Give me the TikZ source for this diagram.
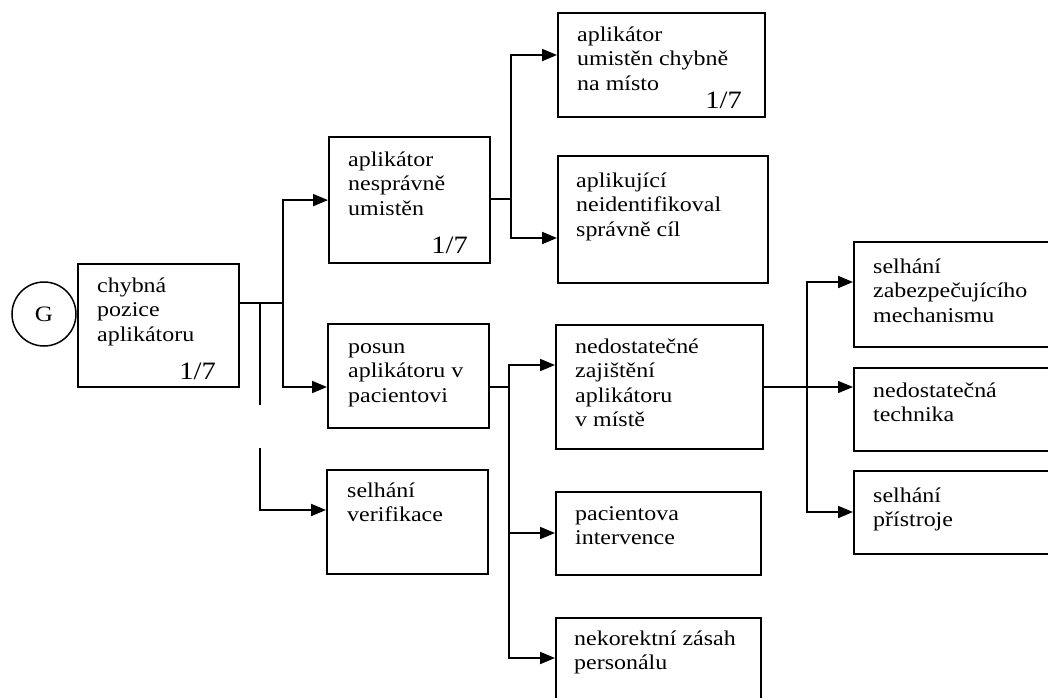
\documentclass[tikz,border=0pt]{standalone}
\usepackage{fontspec}
\setmainfont{Liberation Serif}[FakeStretch=1.14]
\usetikzlibrary{arrows.meta}

\begin{document}
\begin{tikzpicture}[x=1pt,y=-1pt,
  box/.style={draw, line width=2.2pt, inner sep=0pt, anchor=north west},
  % base anchor of a multi-line node sits on its last line
  txt/.style={anchor=base west, inner sep=0pt, align=left,
              font=\fontsize{21}{24.5}\selectfont},
  prob/.style={anchor=base east, inner sep=0pt, font=\fontsize{25}{25}\selectfont},
  link/.style={line width=1.9pt},
  arr/.style={link, -{Triangle[length=15pt,width=12pt]}},
]
\useasboundingbox (0,0) rectangle (1048,697);
\clip (0,0) rectangle (1048,697);

% top event
\node[draw, circle, line width=1.5pt, minimum size=64pt, inner sep=0pt,
      font=\fontsize{22}{22}\selectfont] (g) at (44,314) {G};

% boxes
\node[box, minimum width=161pt, minimum height=123pt] (b1) at (77,263) {};
\node[box, minimum width=161pt, minimum height=126pt] (b2) at (328,136) {};
\node[box, minimum width=207pt, minimum height=104pt] (b3) at (557,12) {};
\node[box, minimum width=210pt, minimum height=127pt] (b4) at (557,155) {};
\node[box, minimum width=161pt, minimum height=104pt] (b5) at (327,323) {};
\node[box, minimum width=161pt, minimum height=104pt] (b6) at (326,469) {};
\node[box, minimum width=207pt, minimum height=124pt] (b7) at (555,324) {};
\node[box, minimum width=205pt, minimum height=83pt]  (b8) at (555,491) {};
\node[box, minimum width=205pt, minimum height=100pt] (b9) at (555,617) {};
\node[box, minimum width=210pt, minimum height=105pt] (b10) at (853,241) {};
\node[box, minimum width=210pt, minimum height=83pt]  (b11) at (853,367) {};
\node[box, minimum width=210pt, minimum height=83pt]  (b12) at (853,470) {};

% texts
\node[txt] (t1) at (97,341) {chybná\\pozice\\aplikátoru};
\node[prob] (p1) at (216,379) {1/7};
\node[txt] (t2) at (348,215) {aplikátor\\nesprávně\\umistěn};
\node[prob] (p2) at (468,253) {1/7};
\node[txt] (t3) at (577,90) {aplikátor\\umistěn chybně\\na místo};
\node[prob] (p3) at (742,108) {1/7};
\node[txt] (t4) at (576,236) {aplikující\\neidentifikoval\\správně cíl};
\node[txt] (t5) at (348,402) {posun\\aplikátoru v\\pacientovi};
\node[txt] (t6) at (347,521.5) {selhání\\verifikace};
\node[txt] (t7) at (575,426.5) {nedostatečné\\zajištění\\aplikátoru\\v místě};
\node[txt] (t8) at (575,544.5) {pacientova\\intervence};
\node[txt] (t9) at (574,669.5) {nekorektní zásah\\personálu};
\node[txt] (t10) at (873,322) {selhání\\zabezpečujícího\\mechanismu};
\node[txt] (t11) at (873,421.5) {nedostatečná\\technika};
\node[txt] (t12) at (873,526.5) {selhání\\přístroje};

% branching under b1
\coordinate (s1) at (283,303);
\coordinate (s1b) at (260,303);
\coordinate (gapA) at (260,405);
\coordinate (gapB) at (260,448);
\draw[link] (b1.east |- s1) -- (s1);
\draw[arr] (s1) |- (b2.west);
\draw[arr] (s1) |- ([yshift=-64pt]b5.north west);
\draw[link] (s1b) -- (gapA);
\draw[arr] (gapB) |- ([yshift=-41pt]b6.north west);

% branching under b2
\coordinate (s2) at (511,199);
\draw[link] (b2.east |- s2) -- (s2);
\draw[arr] (s2) |- ([yshift=-43pt]b3.north west);
\draw[arr] (s2) |- ([yshift=-83pt]b4.north west);

% branching under b5
\coordinate (s3) at (509,387);
\draw[link] (b5.east |- s3) -- (s3);
\draw[arr] (s3) |- ([yshift=-41pt]b7.north west);
\draw[arr] (s3) |- ([yshift=-42pt]b8.north west);
\draw[arr] (s3) |- ([yshift=-41pt]b9.north west);

% branching under b7
\coordinate (s4) at (807,387);
\draw[arr, line width=1.3pt] (b7.east |- s4) -- (b11.west |- s4);
\draw[arr] (s4) |- ([yshift=-41pt]b10.north west);
\draw[arr] (s4) |- ([yshift=-42pt]b12.north west);
\end{tikzpicture}
\end{document}
